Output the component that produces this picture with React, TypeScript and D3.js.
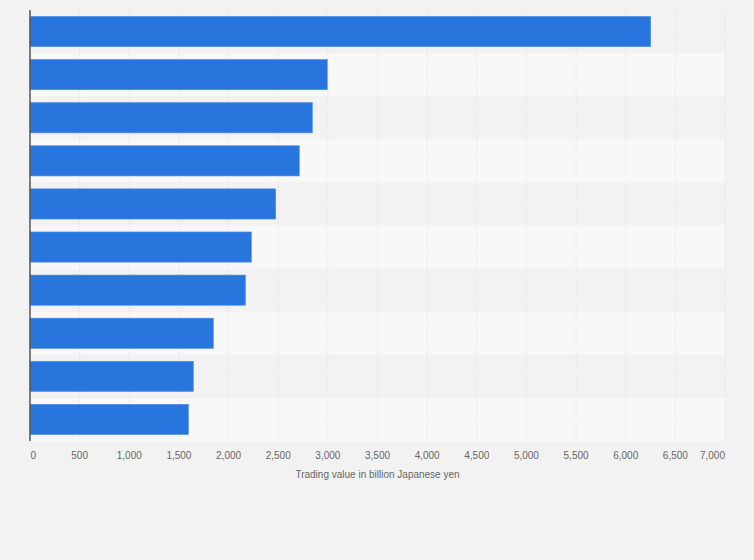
import React from "react";
import * as d3 from "d3";

const categories = ["1", "2", "3", "4", "5", "6", "7", "8", "9", "10"];
const values = [6251, 2994, 2843, 2712, 2474, 2229, 2169, 1846, 1645, 1595];
const tickValues = [0, 500, 1000, 1500, 2000, 2500, 3000, 3500, 4000, 4500, 5000, 5500, 6000, 6500, 7000];
const axisTitle = "Trading value in billion Japanese yen";

const W = 754;
const H = 560;
const left = 30;
const right = 725;
const top = 10;
const bottom = 441;

export default function App() {
  const x = d3.scaleLinear().domain([0, 7000]).range([left, right]);
  const y = d3.scaleBand<string>().domain(categories).range([top, bottom]).paddingInner(0.3).paddingOuter(0.15);
  const step = y.step();
  const fmt = d3.format(",");
  return (
    <svg width={W} height={H} style={{ position: "absolute", left: 0, top: 0, fontFamily: "Arial, 'Liberation Sans', sans-serif" }}>
      <rect x={0} y={0} width={W} height={H} fill="#f2f2f2" />
      {categories.map((c, i) => (
        <rect key={"band" + c} x={left} y={top + i * step} width={right - left} height={step} fill={i % 2 === 0 ? "#f2f2f2" : "#f8f8f8"} />
      ))}
      {tickValues.filter((t) => t > 0).map((t) => (
        <line key={"g" + t} x1={x(t)} x2={x(t)} y1={top} y2={bottom} stroke="#dcdcdc" strokeWidth={1} strokeDasharray="1,2" />
      ))}
      {categories.map((c, i) => (
        <rect key={"bar" + c} x={x(0)} y={y(c)} width={x(values[i]) - x(0)} height={y.bandwidth()} fill="#2876dd" stroke="#4a8ae3" strokeWidth={0.6} />
      ))}
      <line x1={left} x2={left} y1={top} y2={bottom} stroke="#555" strokeWidth={1.5} />
      {tickValues.map((t, i) => (
        <text
          key={"t" + t}
          x={i === 0 ? x(t) + 0.5 : i === tickValues.length - 1 ? x(t) : x(t)}
          y={459}
          fontSize={10}
          fill="#666"
          textAnchor={i === 0 ? "start" : i === tickValues.length - 1 ? "end" : "middle"}
        >
          {fmt(t)}
        </text>
      ))}
      <text x={(left + right) / 2} y={478} fontSize={10} fill="#666" textAnchor="middle">
        {axisTitle}
      </text>
    </svg>
  );
}
